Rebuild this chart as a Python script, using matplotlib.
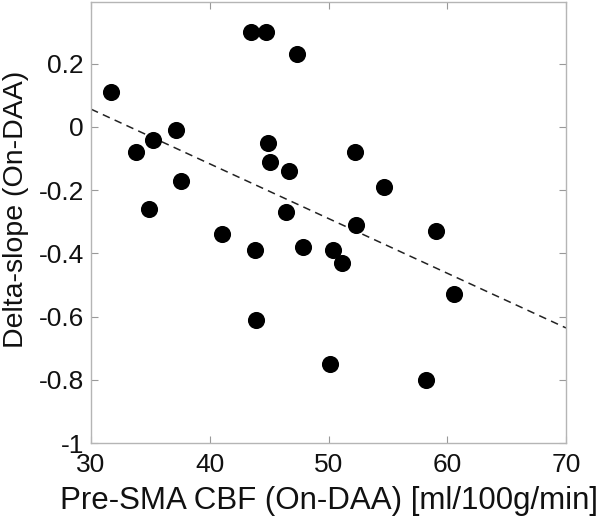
import matplotlib
matplotlib.use("Agg")
import matplotlib.pyplot as plt

plt.rcParams['font.family'] = ['Liberation Sans', 'DejaVu Sans']

cbf = [31.7, 43.45, 44.75, 47.35, 33.8, 35.25, 37.15, 37.6, 34.85, 44.9, 45.1,
       46.7, 46.45, 41.05, 43.85, 47.85, 52.2, 54.7, 52.35, 59.05, 50.35, 51.1,
       60.55, 50.1, 58.2, 43.9]
delta_slope = [0.11, 0.30, 0.30, 0.23, -0.08, -0.04, -0.01, -0.17, -0.26, -0.05, -0.11,
               -0.14, -0.27, -0.34, -0.39, -0.38, -0.08, -0.19, -0.31, -0.33, -0.39, -0.43,
               -0.53, -0.75, -0.80, -0.61]
fit_x = [30, 70]
fit_y = [0.056, -0.636]

xticks = [30, 40, 50, 60, 70]
yticks = [-1, -0.8, -0.6, -0.4, -0.2, 0, 0.2]
ytick_labels = ['-1', '-0.8', '-0.6', '-0.4', '-0.2', '0', '0.2']

fig = plt.figure(figsize=(6.0, 5.21), dpi=100)
ax = fig.add_axes([0.1517, 0.1497, 0.7916, 0.8465])

ax.plot(fit_x, fit_y, linestyle=(0, (5, 3.5)), color='#222222', linewidth=1.1, zorder=2)
ax.plot(cbf, delta_slope, 'o', color='black', markersize=11.3, zorder=3)

ax.set_xlim(30, 70)
ax.set_ylim(-1, 0.395)
ax.set_xticks(xticks)
ax.set_yticks(yticks)
ax.set_yticklabels(ytick_labels)

for s in ax.spines.values():
    s.set_color('#b5b5b5')
    s.set_linewidth(1.0)
ax.tick_params(direction='in', length=5, width=0.8, color='#999999',
               top=True, right=True, labelsize=19, labelcolor='#111111')
ax.tick_params(axis='x', pad=7)
ax.tick_params(axis='y', pad=5)

ax.set_xlabel('Pre-SMA CBF (On-DAA) [ml/100g/min]', fontsize=22.5, color='#111111')
ax.set_ylabel('Delta-slope (On-DAA)', fontsize=20.5, color='#111111')
ax.xaxis.set_label_coords(0.5, -0.098)
ax.yaxis.set_label_coords(-0.157, 0.53)
ax.yaxis.label.set_verticalalignment('center')

fig.savefig('out.png', dpi=100)
